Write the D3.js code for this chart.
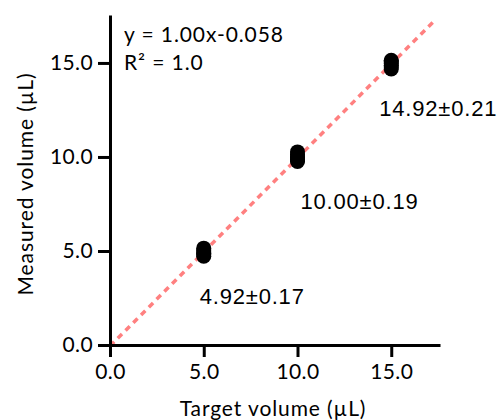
<!DOCTYPE html>
<html>
<head>
<meta charset="utf-8">
<script src="https://cdn.jsdelivr.net/npm/d3@7"></script>
<style>
  body { margin: 0; background: #fff; }
  .axis path, .axis line { stroke: #000; stroke-width: 3; }
  .axis text { font-family: Lato, "Open Sans", sans-serif; font-size: 21px; fill: #000; letter-spacing: 0.4px; }
  .title { font-family: Lato, "Open Sans", sans-serif; font-size: 21px; fill: #000; letter-spacing: 0.9px; }
  .stat { font-family: "Liberation Sans", Arial, sans-serif; font-size: 22px; fill: #000; letter-spacing: 0.8px; }
</style>
</head>
<body>
<div id="chart"></div>
<script>
// target volumes and measured replicates (µL)
const targets = [5, 10, 15];
const replicates = [
  [4.72, 4.80, 4.88, 4.95, 5.05, 5.15],
  [9.76, 9.85, 9.95, 10.03, 10.14, 10.27],
  [14.68, 14.78, 14.88, 14.97, 15.07, 15.14]
];
const statLabels = ["4.92\u00b10.17", "10.00\u00b10.19", "14.92\u00b10.21"];
const tickValues = [0, 5, 10, 15];
const fit = { slope: 1.00, intercept: -0.058, xEnd: 17.25 };
const eqLines = ["y = 1.00x-0.058", "R\u00b2 = 1.0"];

// label nudges (px) relative to the point
const labelDx = [-4, 3, -12];
const labelDy = 52;

const width = 502, height = 420;
const margin = { top: 15, right: 62, bottom: 75, left: 110 };
const w = width - margin.left - margin.right;
const h = height - margin.top - margin.bottom;

const svg = d3.select("#chart").append("svg")
  .attr("width", width).attr("height", height);
const g = svg.append("g").attr("transform", "translate(" + [margin.left, margin.top] + ")");

const x = d3.scaleLinear().domain([0, 17.6]).range([0, w]);
const y = d3.scaleLinear().domain([0, 17.55]).range([h, 0]);

const fmt = d3.format(".1f");

// dashed fit line
g.append("line")
  .attr("x1", x(0)).attr("y1", y(fit.intercept))
  .attr("x2", x(fit.xEnd)).attr("y2", y(fit.slope * fit.xEnd + fit.intercept))
  .attr("stroke", "#ff8080")
  .attr("stroke-width", 3.5)
  .attr("stroke-dasharray", "6,5");

// axes
g.append("g").attr("class", "axis")
  .attr("transform", "translate(0," + h + ")")
  .call(d3.axisBottom(x).tickValues(tickValues).tickFormat(fmt).tickSize(12).tickSizeOuter(0).tickPadding(7));

g.append("g").attr("class", "axis")
  .call(d3.axisLeft(y).tickValues(tickValues).tickFormat(fmt).tickSize(12).tickSizeOuter(0).tickPadding(5));

// replicate points
const pts = [];
targets.forEach((t, i) => replicates[i].forEach(v => pts.push({ t, v })));
g.selectAll(".pt").data(pts).enter().append("circle")
  .attr("class", "pt")
  .attr("cx", d => x(d.t))
  .attr("cy", d => y(d.v))
  .attr("r", 7.5)
  .attr("fill", "#000");

// mean ± sd labels
g.selectAll(".stat").data(targets).enter().append("text")
  .attr("class", "stat")
  .attr("x", (d, i) => x(d) + labelDx[i])
  .attr("y", (d, i) => y(d3.mean(replicates[i])) + labelDy)
  .text((d, i) => statLabels[i]);

// equation
g.selectAll(".eq").data(eqLines).enter().append("text")
  .attr("class", "title")
  .attr("x", 14)
  .attr("y", (d, i) => 27 + i * 28)
  .text(d => d);

// axis titles
svg.append("text").attr("class", "title")
  .attr("x", 273).attr("y", 416)
  .attr("text-anchor", "middle")
  .text("Target volume (\u00b5L)");

svg.append("text").attr("class", "title")
  .attr("transform", "translate(33," + 184 + ") rotate(-90)")
  .attr("text-anchor", "middle")
  .text("Measured volume (\u00b5L)");
</script>
</body>
</html>
